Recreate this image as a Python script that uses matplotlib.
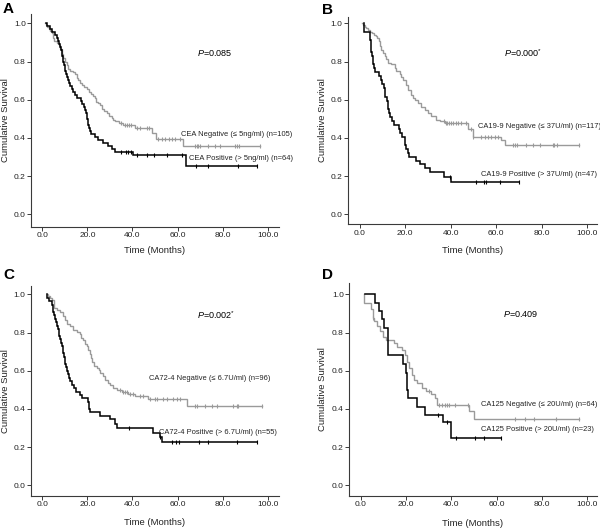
import matplotlib
matplotlib.use("Agg")
import matplotlib.pyplot as plt
import numpy as np

plt.rcParams['font.family'] = ['Liberation Sans', 'DejaVu Sans']
plt.rcParams['mathtext.fontset'] = 'custom'
plt.rcParams['mathtext.rm'] = 'Liberation Sans'
plt.rcParams['mathtext.it'] = 'Liberation Sans:italic'

# ---------------- data ----------------
x_ticks = [0, 20, 40, 60, 80, 100]
x_tick_labels = ["0.0", "20.0", "40.0", "60.0", "80.0", "100.0"]
y_ticks = [0.0, 0.2, 0.4, 0.6, 0.8, 1.0]
y_tick_labels = ["0.0", "0.2", "0.4", "0.6", "0.8", "1.0"]
panel_letters = ["A", "B", "C", "D"]
p_values = [r"$\mathit{P}$=0.085", r"$\mathit{P}$=0.000$^{*}$",
            r"$\mathit{P}$=0.002$^{*}$", r"$\mathit{P}$=0.409"]
neg_labels = ["CEA Negative (\u2264 5ng/ml) (n=105)",
              "CA19-9 Negative (\u2264 37U/ml) (n=117)",
              "CA72-4 Negative (\u2264 6.7U/ml) (n=96)",
              "CA125 Negative (\u2264 20U/ml) (n=64)"]
pos_labels = ["CEA Positive (> 5ng/ml) (n=64)",
              "CA19-9 Positive (> 37U/ml) (n=47)",
              "CA72-4 Positive (> 6.7U/ml) (n=55)",
              "CA125 Positive (> 20U/ml) (n=23)"]

# Panel A - CEA
a_neg_start, a_neg_end = 1.2, 96.6
a_neg_t = [1.5, 2.2, 3.0, 3.6, 4.2, 4.8, 5.2, 6.4, 7.2, 7.8, 8.6, 9.2, 10.0, 10.8, 11.5,
           12.5, 13.5, 14.5, 15.3, 16.0, 16.8, 17.5, 18.5, 20.0, 20.8, 21.5, 22.3, 23.4,
           24.0, 24.6, 25.5, 26.3, 27.5, 28.6, 29.5, 30.8, 31.5, 32.2, 34.0, 36.0, 41.0,
           48.8, 50.5, 62.6]
a_neg_s = [0.990, 0.981, 0.971, 0.962, 0.952, 0.924, 0.905, 0.895, 0.886, 0.867, 0.838,
           0.819, 0.800, 0.781, 0.762, 0.752, 0.743, 0.733, 0.714, 0.705, 0.686, 0.676,
           0.667, 0.657, 0.638, 0.629, 0.619, 0.610, 0.590, 0.581, 0.571, 0.552, 0.543,
           0.533, 0.514, 0.505, 0.495, 0.486, 0.476, 0.467, 0.454, 0.424, 0.394, 0.357]
a_neg_cens = [35.0, 36.5, 37.5, 38.5, 39.5, 42.0, 43.5, 46.5, 47.5, 51.5, 53.0, 54.5, 56.0,
              57.5, 59.0, 61.0, 67.7, 68.5, 69.2, 70.0, 73.6, 76.6, 78.8, 85.5, 86.2,
              87.3, 96.6]
a_pos_start, a_pos_end = 1.6, 95.1
a_pos_t = [2.0, 3.5, 4.5, 5.5, 6.5, 7.0, 7.5, 8.0, 8.4, 8.6, 8.8, 9.0, 9.3, 9.6, 9.9, 10.2,
           10.5, 10.8, 11.3, 11.8, 12.3, 13.0, 13.5, 14.3, 15.5, 17.0, 17.8, 18.4, 18.9,
           19.3, 19.7, 20.0, 20.2, 20.5, 20.8, 21.1, 21.5, 23.4, 24.9, 27.0, 29.3, 30.8,
           32.2, 40.1, 63.8]
a_pos_s = [0.984, 0.969, 0.953, 0.938, 0.922, 0.906, 0.891, 0.875, 0.859, 0.844, 0.828,
           0.813, 0.797, 0.781, 0.766, 0.750, 0.734, 0.719, 0.703, 0.688, 0.672, 0.656,
           0.641, 0.625, 0.609, 0.594, 0.578, 0.563, 0.547, 0.531, 0.516, 0.500, 0.484,
           0.469, 0.453, 0.438, 0.422, 0.406, 0.391, 0.375, 0.359, 0.344, 0.328, 0.310,
           0.255]
a_pos_cens = [34.9, 37.1, 38.2, 39.3, 42.2, 46.3, 49.7, 55.2, 61.8, 68.2, 73.4, 86.7, 95.1]

# Panel B - CA19-9
b_neg_start, b_neg_end = 1.2, 96.5
b_neg_t = [1.5, 2.2, 2.9, 3.7, 4.7, 5.6, 6.2, 7.0, 7.8, 8.4, 8.8, 9.5, 10.3, 11.0, 11.7,
           12.5, 13.9, 15.4, 16.1, 17.6, 18.3, 19.1, 20.2, 21.3, 22.4, 23.5, 24.2, 25.7,
           27.1, 28.6, 30.1, 31.5, 33.7, 35.2, 37.4, 47.6, 49.8, 62.3, 63.8]
b_neg_s = [0.991, 0.983, 0.974, 0.966, 0.957, 0.949, 0.940, 0.932, 0.923, 0.906, 0.880,
           0.863, 0.846, 0.829, 0.812, 0.795, 0.786, 0.769, 0.752, 0.735, 0.718, 0.701,
           0.675, 0.650, 0.624, 0.607, 0.598, 0.581, 0.564, 0.547, 0.530, 0.513, 0.496,
           0.487, 0.476, 0.445, 0.406, 0.389, 0.362]
b_neg_cens = [37.0, 37.8, 38.4, 39.3, 40.3, 41.0, 42.2, 43.3, 44.3, 46.5, 48.8, 49.9, 53.5,
              55.0, 56.4, 57.9, 59.4, 60.8, 67.2, 68.2, 69.2, 73.0, 76.3, 79.2, 84.8,
              85.5, 86.5, 96.5]
b_pos_start, b_pos_end = 1.8, 70.2
b_pos_t = [1.8, 4.4, 4.6, 4.8, 5.0, 5.1, 5.4, 5.7, 6.0, 6.3, 6.6, 8.6, 9.2, 9.8, 10.5,
           10.9, 11.3, 11.8, 12.2, 12.6, 13.0, 13.5, 14.2, 15.0, 17.3, 17.6, 18.5, 19.8,
           20.1, 20.5, 21.0, 21.5, 24.9, 26.4, 28.6, 30.8, 37.0, 40.3]
b_pos_s = [0.957, 0.936, 0.915, 0.894, 0.872, 0.851, 0.830, 0.809, 0.787, 0.766, 0.745,
           0.723, 0.702, 0.681, 0.660, 0.638, 0.617, 0.596, 0.574, 0.553, 0.532, 0.511,
           0.489, 0.468, 0.447, 0.426, 0.404, 0.383, 0.362, 0.340, 0.319, 0.298, 0.280,
           0.262, 0.244, 0.223, 0.197, 0.172]
b_pos_cens = [39.6, 51.3, 54.7, 55.3, 61.6, 70.2]

# Panel C - CA72-4
c_neg_start, c_neg_end = 1.9, 97.3
c_neg_t = [2.5, 3.3, 4.5, 5.0, 5.4, 6.4, 8.0, 9.0, 10.0, 10.8, 12.3, 13.8, 15.5, 16.5,
           17.3, 18.2, 19.0, 19.8, 20.4, 21.0, 21.5, 22.0, 22.8, 24.1, 25.0, 25.8, 27.0,
           28.0, 29.0, 30.0, 31.3, 33.0, 35.5, 38.0, 41.0, 47.0, 64.1]
c_neg_s = [0.990, 0.979, 0.969, 0.948, 0.927, 0.917, 0.906, 0.885, 0.865, 0.844, 0.833,
           0.813, 0.802, 0.792, 0.771, 0.760, 0.740, 0.729, 0.708, 0.688, 0.667, 0.646,
           0.625, 0.613, 0.602, 0.590, 0.570, 0.549, 0.538, 0.525, 0.510, 0.500, 0.489,
           0.479, 0.466, 0.450, 0.415]
c_neg_cens = [34.5, 35.7, 36.7, 37.7, 38.9, 40.4, 43.3, 44.8, 47.8, 50.0, 51.0, 53.7, 55.2,
              58.1, 59.6, 61.1, 67.7, 68.5, 72.2, 75.2, 77.6, 84.7, 86.2, 87.0, 97.3]
c_pos_start, c_pos_end = 1.9, 95.1
c_pos_t = [1.9, 3.0, 4.4, 4.9, 5.2, 5.5, 5.9, 6.3, 6.8, 7.2, 7.6, 8.0, 8.4, 8.7, 9.0, 9.3,
           9.6, 9.9, 10.2, 10.6, 11.0, 11.4, 11.9, 12.4, 13.0, 14.0, 15.0, 16.5, 17.8,
           20.4, 20.8, 21.2, 25.6, 30.0, 32.2, 33.0, 49.3, 52.0, 53.0]
c_pos_s = [0.982, 0.964, 0.945, 0.909, 0.891, 0.873, 0.855, 0.836, 0.818, 0.800, 0.782,
           0.764, 0.745, 0.727, 0.709, 0.691, 0.673, 0.655, 0.636, 0.618, 0.600, 0.582,
           0.564, 0.545, 0.527, 0.509, 0.491, 0.473, 0.455, 0.436, 0.400, 0.382, 0.364,
           0.345, 0.320, 0.300, 0.272, 0.255, 0.229]
c_pos_cens = [38.6, 52.2, 57.7, 59.2, 60.7, 69.7, 73.7, 86.2, 95.1]

# Panel D - CA125
d_neg_start, d_neg_end = 1.5, 96.3
d_neg_t = [1.5, 4.6, 5.3, 6.0, 7.4, 8.5, 10.0, 11.2, 14.7, 15.9, 18.1, 19.6, 20.6, 21.5,
           22.5, 23.5, 24.7, 26.9, 28.8, 30.9, 32.8, 33.5, 47.9, 50.0]
d_neg_s = [0.953, 0.922, 0.875, 0.859, 0.834, 0.806, 0.778, 0.760, 0.744, 0.726, 0.709,
           0.682, 0.647, 0.613, 0.578, 0.551, 0.534, 0.508, 0.494, 0.480, 0.455, 0.420,
           0.390, 0.346]
d_neg_cens = [5.3, 30.3, 34.7, 35.7, 37.2, 38.0, 39.1, 41.6, 47.5, 68.1, 72.7, 76.5, 86.0,
              96.3]
d_pos_start, d_pos_end = 1.9, 62.0
d_pos_t = [6.3, 8.1, 9.5, 10.4, 12.2, 18.5, 20.0, 20.3, 20.6, 21.0, 24.7, 28.4, 36.4, 39.7]
d_pos_s = [0.957, 0.913, 0.870, 0.826, 0.684, 0.638, 0.590, 0.545, 0.500, 0.455, 0.410,
           0.370, 0.330, 0.250]
d_pos_cens = [34.3, 37.9, 41.9, 50.4, 54.5, 62.0]

neg_series = [(a_neg_start, a_neg_t, a_neg_s, a_neg_end, a_neg_cens),
              (b_neg_start, b_neg_t, b_neg_s, b_neg_end, b_neg_cens),
              (c_neg_start, c_neg_t, c_neg_s, c_neg_end, c_neg_cens),
              (d_neg_start, d_neg_t, d_neg_s, d_neg_end, d_neg_cens)]
pos_series = [(a_pos_start, a_pos_t, a_pos_s, a_pos_end, a_pos_cens),
              (b_pos_start, b_pos_t, b_pos_s, b_pos_end, b_pos_cens),
              (c_pos_start, c_pos_t, c_pos_s, c_pos_end, c_pos_cens),
              (d_pos_start, d_pos_t, d_pos_s, d_pos_end, d_pos_cens)]

# ---------------- layout ----------------
W, H = 600, 530
# axes boxes in pixels: (left, top, right, bottom)
boxes = [(31, 14, 279, 226.7), (347.7, 16.7, 597, 224.3),
         (30.7, 285.7, 279, 495.7), (349, 283.3, 597, 495.7)]
xlims = [(-5.0, 105.0), (-5.3, 104.3), (-5.15, 105.0), (-5.16, 104.3)]
ylims = [(-0.065, 1.049), (-0.052, 1.035), (-0.054, 1.045), (-0.054, 1.058)]
letter_pos = [(3, 2), (322, 2.5), (3, 267.5), (321.5, 268)]
ylabel_x = [-0.102, -0.102, -0.0995, -0.108]
xlabel_y = [-0.113, -0.127, -0.129, -0.130]
p_pos = [(68.5, 0.846), (63.4, 0.846), (68.5, 0.892), (62.9, 0.895)]
neg_lab_pos = [(61.5, 0.419), (51.8, 0.459), (47.3, 0.557), (53.1, 0.426)]
pos_lab_pos = [(65.1, 0.293), (53.5, 0.211), (51.9, 0.275), (53.1, 0.290)]

GRAY = '#9a9a9a'
AXC = '#3a3a3a'
TXT = '#222222'

fig = plt.figure(figsize=(W / 100, H / 100), dpi=100)


def draw_km(ax, start, t, s, end, cens, color, lw):
    xs = [start] + list(t) + [end]
    ys = [1.0] + list(s) + [s[-1]]
    ax.step(xs, ys, where='post', color=color, lw=lw, solid_joinstyle='miter', zorder=3)
    t_arr = np.array(t)
    s_arr = np.array(s)
    cy = []
    for c in cens:
        idx = np.searchsorted(t_arr, c, side='right') - 1
        cy.append(1.0 if idx < 0 else s_arr[idx])
    ax.plot(cens, cy, linestyle='none', marker='|', markersize=3.2,
            markeredgewidth=0.8, color=color, zorder=3)


for i in range(4):
    l, t_, r, b = boxes[i]
    ax = fig.add_axes([l / W, 1 - b / H, (r - l) / W, (b - t_) / H])
    ax.set_xlim(*xlims[i])
    ax.set_ylim(*ylims[i])
    for sp in ['top', 'right']:
        ax.spines[sp].set_visible(False)
    for sp in ['left', 'bottom']:
        ax.spines[sp].set_color(AXC)
        ax.spines[sp].set_linewidth(0.8)
    ax.set_xticks(x_ticks)
    ax.set_xticklabels(x_tick_labels)
    ax.set_yticks(y_ticks)
    ax.set_yticklabels(y_tick_labels)
    ax.tick_params(direction='out', length=2.6, width=0.7, color=AXC,
                   labelsize=6.0, pad=1.2, labelcolor=TXT)

    draw_km(ax, *neg_series[i], color=GRAY, lw=1.0)
    draw_km(ax, *pos_series[i], color='black', lw=1.1)

    ax.text(neg_lab_pos[i][0], neg_lab_pos[i][1], neg_labels[i], fontsize=5.4,
            ha='left', va='center', color=TXT, clip_on=False)
    ax.text(pos_lab_pos[i][0], pos_lab_pos[i][1], pos_labels[i], fontsize=5.4,
            ha='left', va='center', color=TXT, clip_on=False)
    ax.text(p_pos[i][0], p_pos[i][1], p_values[i], fontsize=6.5,
            ha='left', va='center', color='black')

    ax.text(0.5, xlabel_y[i], "Time (Months)", fontsize=6.8, color=TXT,
            ha='center', va='center', transform=ax.transAxes)
    ax.text(ylabel_x[i], 0.5, "Cumulative Survival", fontsize=6.8, color=TXT,
            ha='center', va='center', rotation=90, transform=ax.transAxes)

    lx, ly = letter_pos[i]
    fig.text(lx / W, 1 - ly / H, panel_letters[i], fontsize=11, fontweight='bold',
             ha='left', va='top')

fig.savefig("out.png", dpi=100, facecolor='white')
